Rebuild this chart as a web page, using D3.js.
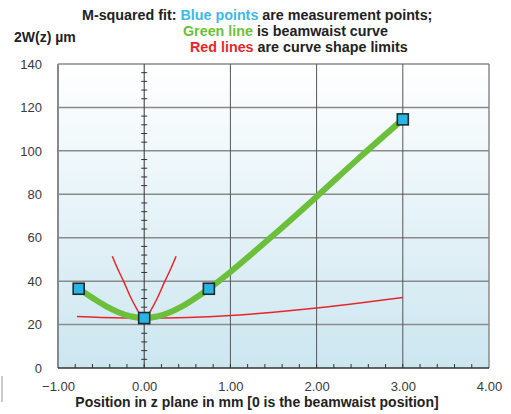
<!DOCTYPE html>
<html><head><meta charset="utf-8">
<script src="https://cdn.jsdelivr.net/npm/d3@7"></script>
<style>html,body{margin:0;padding:0;background:#fff;}svg{display:block;font-family:"Liberation Sans",Arial,sans-serif;}</style>
</head><body>
<svg id="c" width="511" height="414"></svg>
<script>
// measurement points
const pointZ = [-0.76, 0.0, 0.75, 3.0];
const pointW = [36.5, 23.0, 36.5, 114.5];
// green beamwaist curve
const greenZ = [-0.76, -0.6, -0.45, -0.3, -0.15, 0.0, 0.15, 0.3, 0.45, 0.6, 0.75, 1.0, 1.5, 2.0, 2.5, 3.0];
const greenW = [36.5, 32.3, 28.6, 25.7, 23.7, 23.0, 23.7, 25.7, 28.6, 32.3, 36.5, 44.2, 61.2, 78.9, 97.0, 114.5];
// red limit curves
const redWideZ = [-0.78, -0.5, 0.0, 0.5, 1.0, 1.5, 2.0, 2.5, 3.0];
const redWideW = [23.7, 23.3, 23.0, 23.3, 24.2, 25.7, 27.6, 29.9, 32.5];
const redNarrowZ = [-0.37, -0.3, -0.24, -0.15, -0.08, -0.03, 0.0, 0.03, 0.08, 0.15, 0.24, 0.3, 0.37];
const redNarrowW = [51.5, 45.0, 40.0, 32.0, 26.8, 23.6, 23.0, 23.6, 26.8, 32.0, 40.0, 45.0, 51.5];
// ticks
const xTicks = [-1, 0, 1, 2, 3, 4];
const yTicks = [0, 20, 40, 60, 80, 100, 120, 140];

const svg = d3.select("#c");
const x = d3.scaleLinear().domain([-1, 4]).range([58, 489]);
const y = d3.scaleLinear().domain([0, 140]).range([368, 64]);

const defs = svg.append("defs");
const grad = defs.append("linearGradient").attr("id","bg").attr("x1",0).attr("y1",0).attr("x2",0).attr("y2",1);
grad.append("stop").attr("offset","0%").attr("stop-color","#ffffff");
grad.append("stop").attr("offset","100%").attr("stop-color","#cce6f0");

svg.append("rect").attr("x", x(-1)).attr("y", y(140)).attr("width", x(4)-x(-1)).attr("height", y(0)-y(140)).attr("fill","url(#bg)");

// horizontal gridlines
svg.append("g").selectAll("line").data(yTicks.filter(d=>d>0)).join("line")
  .attr("x1", x(-1)).attr("x2", x(4)).attr("y1", d=>y(d)).attr("y2", d=>y(d))
  .attr("stroke","#8a8a8a").attr("stroke-width",1.5);
// vertical gridlines
svg.append("g").selectAll("line").data([1,2,3]).join("line")
  .attr("x1", d=>x(d)).attr("x2", d=>x(d)).attr("y1", y(140)).attr("y2", y(0))
  .attr("stroke","#555").attr("stroke-width",1);
// right border
svg.append("line").attr("x1", x(4)).attr("x2", x(4)).attr("y1", y(140)).attr("y2", y(0)).attr("stroke","#8a8a8a").attr("stroke-width",1.5);
// x=0 line with minor ticks
svg.append("line").attr("x1", x(0)).attr("x2", x(0)).attr("y1", y(140)).attr("y2", y(0)).attr("stroke","#333").attr("stroke-width",1);
const zeroTicks = d3.range(4, 140, 4).filter(d => d % 20 !== 0);
svg.append("g").selectAll("line").data(zeroTicks).join("line")
  .attr("x1", x(0)-3).attr("x2", x(0)+3).attr("y1", d=>y(d)).attr("y2", d=>y(d))
  .attr("stroke","#333").attr("stroke-width",1);
// bottom minor ticks
const xMinor = d3.range(-0.8, 4, 0.2);
svg.append("g").selectAll("line").data(xMinor).join("line")
  .attr("x1", d=>x(d)).attr("x2", d=>x(d)).attr("y1", y(0)).attr("y2", y(0)-4)
  .attr("stroke","#333").attr("stroke-width",1);
// axes lines
svg.append("line").attr("x1", x(-1)).attr("x2", x(-1)).attr("y1", y(140)).attr("y2", y(0)).attr("stroke","#8a8a8a").attr("stroke-width",2);
svg.append("line").attr("x1", x(-1)).attr("x2", x(4)).attr("y1", y(0)).attr("y2", y(0)).attr("stroke","#333").attr("stroke-width",1.5);

// y axis labels
const ya = svg.append("g").attr("transform", `translate(${x(-1)-13},0)`)
  .call(d3.axisLeft(y).tickValues(yTicks).tickSize(0).tickFormat(d3.format("d")));
ya.select(".domain").remove();
ya.selectAll("text").attr("font-size", 13).attr("fill", "#3a3a3a").attr("font-family","Liberation Sans, Arial, sans-serif");
// x axis labels
const xa = svg.append("g").attr("transform", `translate(0,${y(0)+11})`)
  .call(d3.axisBottom(x).tickValues(xTicks).tickSize(0).tickFormat(d3.format(".2f")));
xa.select(".domain").remove();
xa.selectAll("text").attr("font-size", 13).attr("fill", "#3a3a3a").attr("font-family","Liberation Sans, Arial, sans-serif");

// curves
const line = d3.line().x(d=>x(d[0])).y(d=>y(d[1])).curve(d3.curveCatmullRom);
svg.append("path").datum(redWideZ.map((z,i)=>[z, redWideW[i]])).attr("d", line)
  .attr("fill","none").attr("stroke","#e8262a").attr("stroke-width",1.5);
svg.append("path").datum(redNarrowZ.map((z,i)=>[z, redNarrowW[i]])).attr("d", line)
  .attr("fill","none").attr("stroke","#e8262a").attr("stroke-width",1.5);
svg.append("path").datum(greenZ.map((z,i)=>[z, greenW[i]])).attr("d", line)
  .attr("fill","none").attr("stroke","#6cbf3b").attr("stroke-width",6).attr("stroke-linecap","round");

// points
svg.append("g").selectAll("rect").data(pointZ.map((z,i)=>[z, pointW[i]])).join("rect")
  .attr("x", d=>x(d[0])-5.5).attr("y", d=>y(d[1])-5.5).attr("width",11).attr("height",11)
  .attr("fill","#2ab4e6").attr("stroke","#1d2a30").attr("stroke-width",1.6);

// titles
const t = svg.append("g").attr("font-weight","bold");
function rich(xp, yp, parts){
  const tx = t.append("text").attr("x", xp).attr("y", yp).attr("font-size", 14.3);
  parts.forEach(p => tx.append("tspan").attr("fill", p[1]).text(p[0]));
}
rich(82, 20, [["M-squared fit: ","#222"],["Blue points","#3db9e9"],[" are measurement points;","#222"]]);
rich(183, 36, [["Green line","#6cbf3b"],[" is beamwaist curve","#222"]]);
rich(190, 52, [["Red lines","#e8262a"],[" are curve shape limits","#222"]]);
t.append("text").attr("x", 14).attr("y", 42).attr("font-size", 14).attr("fill","#222").text("2W(z) µm");
t.append("text").attr("x", 257).attr("y", 407).attr("font-size", 14).attr("text-anchor","middle").attr("fill","#222").text("Position in z plane in mm [0 is the beamwaist position]");

// small artifact at left edge
svg.append("line").attr("x1",2).attr("x2",2).attr("y1",376).attr("y2",402).attr("stroke","#bbb").attr("stroke-width",1.5);
</script>
</body></html>
